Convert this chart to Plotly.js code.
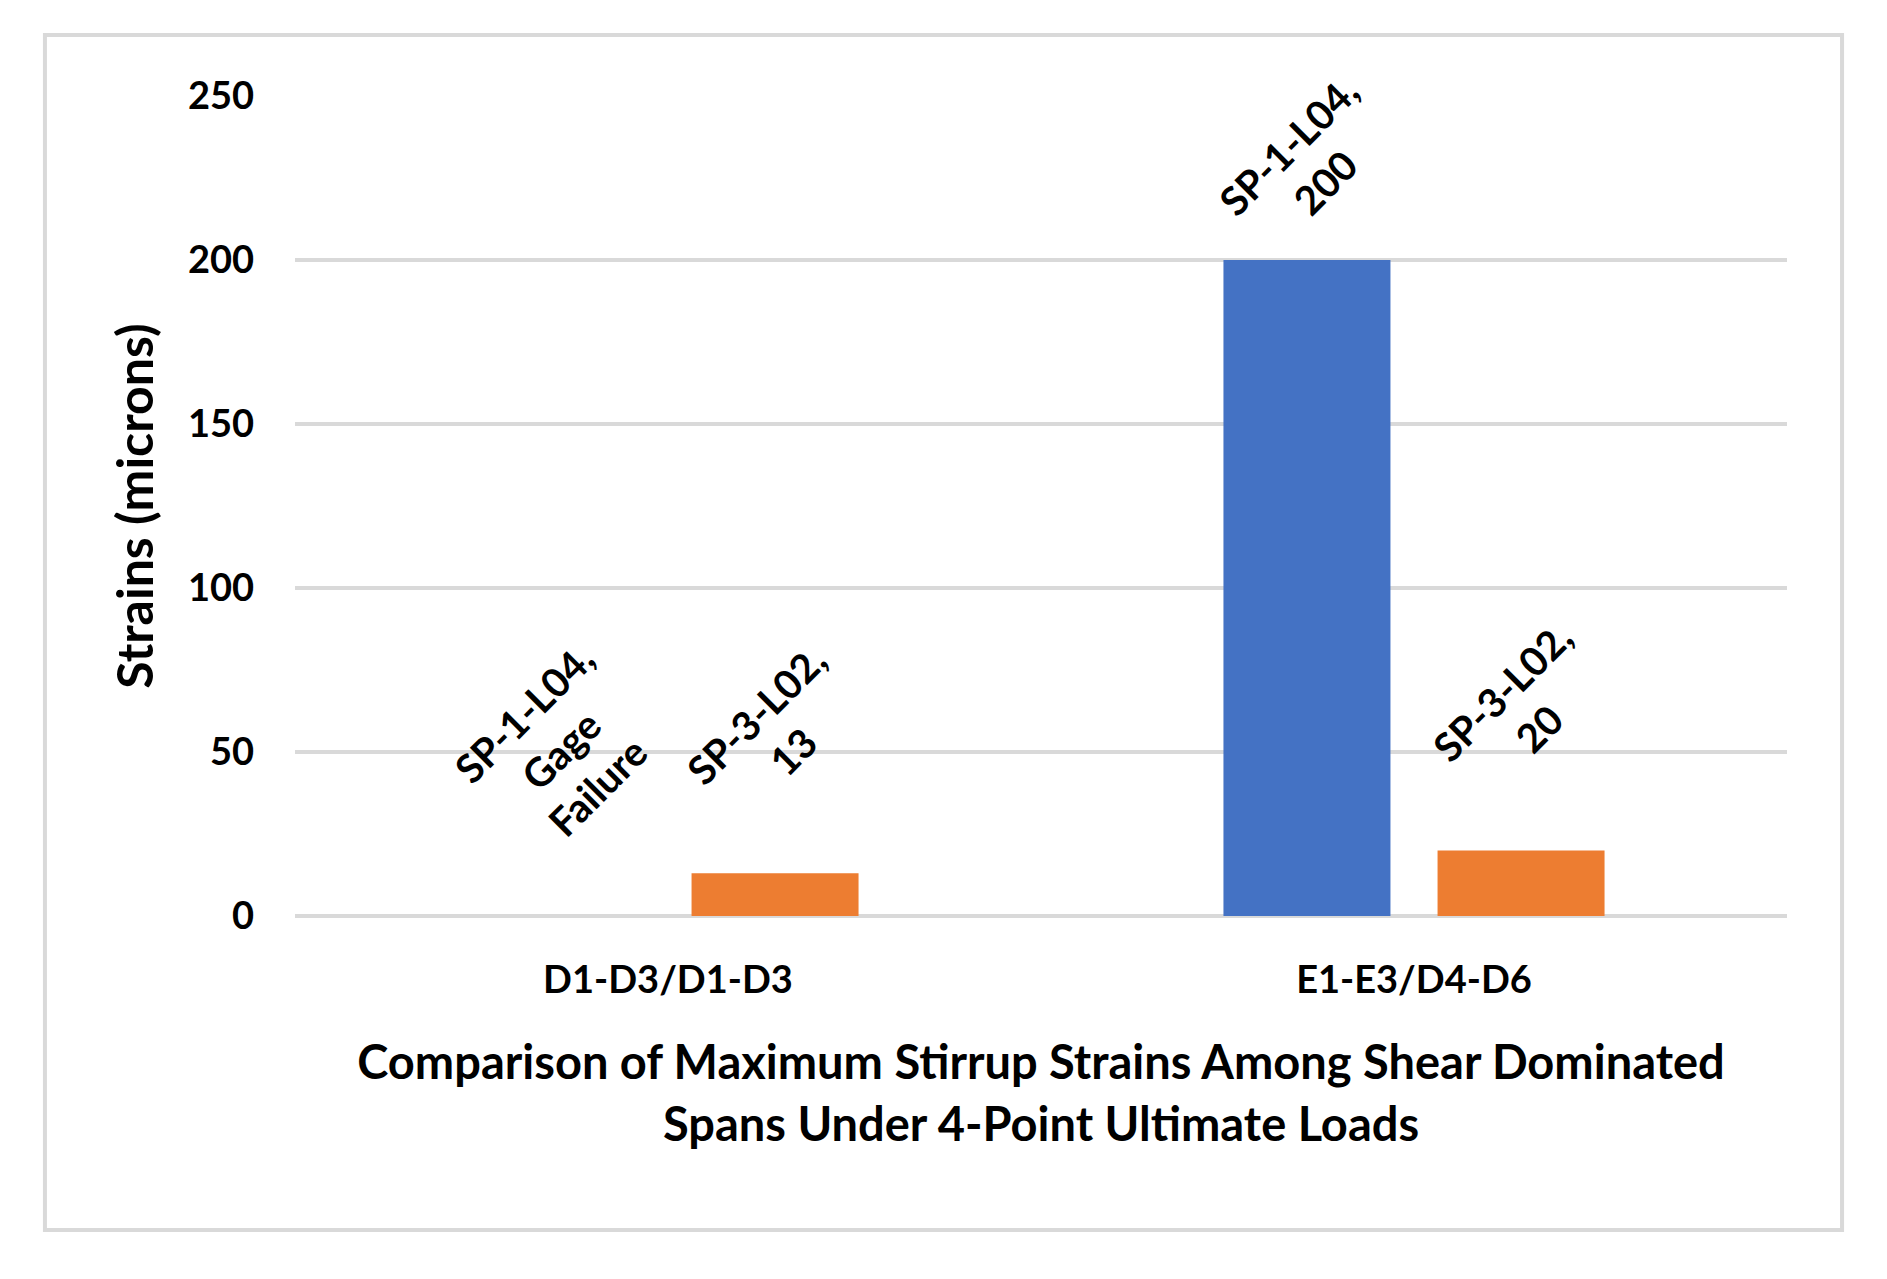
<!DOCTYPE html>
<html>
<head>
<meta charset="utf-8">
<script src="https://cdn.plot.ly/plotly-3.0.1.min.js"></script>
<style>html,body{margin:0;padding:0;background:#fff;}#chart{width:1887px;height:1279px;}</style>
</head>
<body>
<div id="chart"></div>
<script>
// ---- data ----
var categories = ['D1-D3/D1-D3', 'E1-E3/D4-D6'];
var seriesNames = ['SP-1-L04', 'SP-3-L02'];
var sp1Values = [null, 200];   // null = gage failure
var sp3Values = [13, 20];
var failureText = 'Gage<br>Failure';
var yTicks = [0, 50, 100, 150, 200, 250];
var xTitle = 'Comparison of Maximum Stirrup Strains Among Shear Dominated<br>Spans Under 4-Point Ultimate Loads';
var yTitle = 'Strains (microns)';

var colors = ['#4472C4', '#ED7D31'];
var FONT = 'Lato, "Open Sans", sans-serif';
var bargap = 0.426, bargroupgap = 0.22;

var seriesValues = [sp1Values, sp3Values];
var traces = seriesValues.map(function (vals, k) {
  return {
    type: 'bar', name: seriesNames[k], x: categories, y: vals,
    marker: {color: colors[k]}, hoverinfo: 'x+y+name'
  };
});

// rotated data labels as annotations (positioned via data coordinates)
var slotOff = (1 - bargap) / 4;
var annotations = [];
seriesValues.forEach(function (vals, k) {
  vals.forEach(function (v, i) {
    var txt = seriesNames[k] + ',<br>' + (v === null ? failureText : String(v));
    var nLines = txt.split('<br>').length;
    var yv = v === null ? 0 : v;
    var shift = 88 + 26 * nLines;
    if (yv >= 200) shift = 96;
    annotations.push({
      xref: 'x', yref: 'y', x: i + (k === 0 ? -slotOff : slotOff), y: yv,
      text: txt, showarrow: false, textangle: -45,
      xanchor: 'center', yanchor: 'middle', yshift: shift,
      font: {family: FONT, size: 40, color: '#000', weight: 700}
    });
  });
});

var layout = {
  width: 1887, height: 1279,
  margin: {l: 295, r: 100, t: 96, b: 363},
  paper_bgcolor: '#fff', plot_bgcolor: '#fff',
  showlegend: false,
  barmode: 'group', bargap: bargap, bargroupgap: bargroupgap,
  font: {family: FONT, color: '#000', weight: 700},
  xaxis: {
    type: 'category', showgrid: false, showline: false, zeroline: false,
    ticks: '', ticklabelstandoff: 38,
    tickfont: {family: FONT, size: 38, color: '#000', weight: 700},
    title: {text: xTitle, standoff: 46, font: {family: FONT, size: 47, color: '#000', weight: 700}},
    automargin: false
  },
  yaxis: {
    range: [0, 250], tickvals: yTicks, ticks: '', showline: false,
    gridcolor: '#d9d9d9', gridwidth: 4,
    zeroline: true, zerolinecolor: '#d9d9d9', zerolinewidth: 4,
    ticklabelstandoff: 40,
    tickfont: {family: FONT, size: 38, color: '#000', weight: 700},
    title: {text: yTitle, standoff: 18, font: {family: FONT, size: 50, color: '#000', weight: 700}},
    automargin: false
  },
  shapes: [{
    type: 'rect', xref: 'paper', yref: 'paper',
    x0: -0.1676, x1: 1.0369, y0: -0.3829, y1: 1.0744,
    line: {color: '#d9d9d9', width: 4}, fillcolor: 'rgba(0,0,0,0)', layer: 'below'
  }],
  annotations: annotations
};

Plotly.newPlot('chart', traces, layout, {displayModeBar: false, staticPlot: true});
</script>
</body>
</html>
